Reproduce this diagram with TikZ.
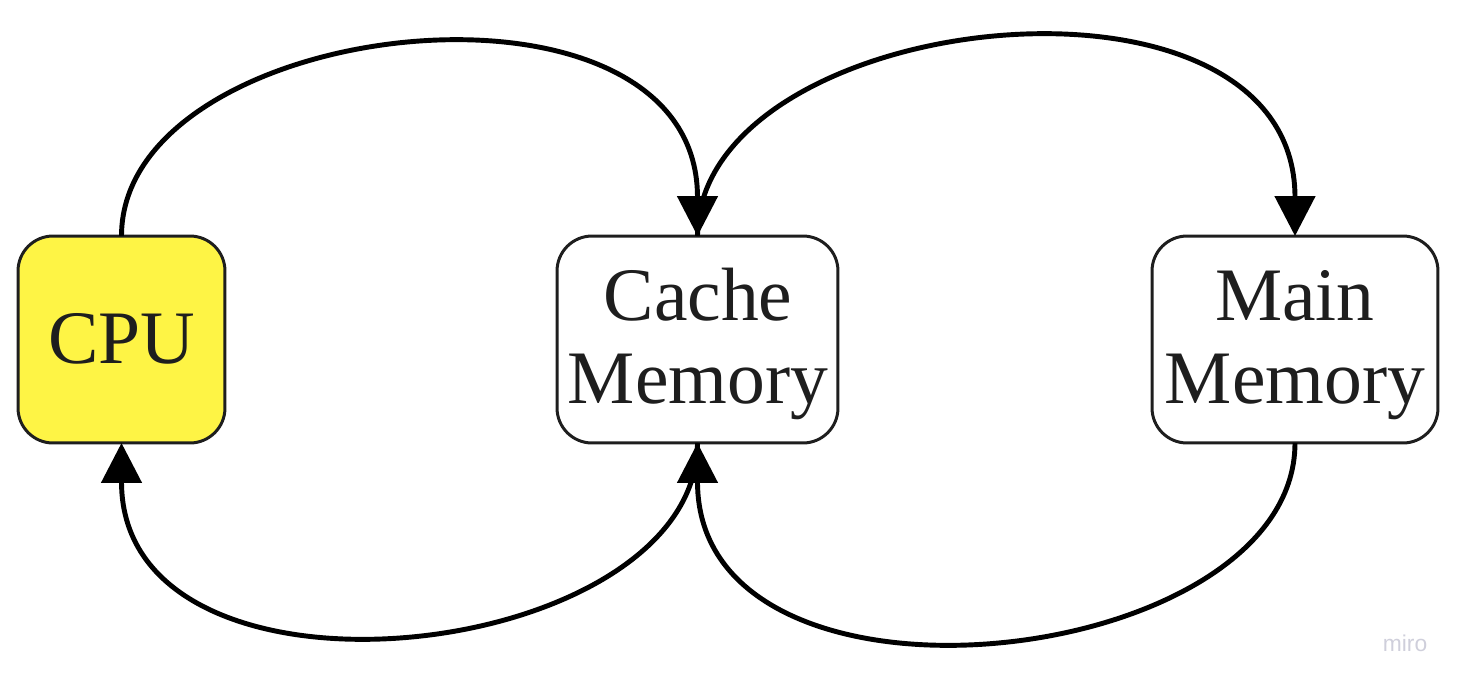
\documentclass[tikz,border=0pt]{standalone}
\usepackage{fontspec}
\setmainfont{Liberation Serif}
\newfontfamily\wmfont{Liberation Sans}
\usetikzlibrary{arrows.meta}
\definecolor{miroyellow}{HTML}{FEF445}
\definecolor{boxline}{HTML}{1E1E1E}
\definecolor{txt}{HTML}{1E1E1E}
\definecolor{wm}{HTML}{CFCFDB}
\begin{document}
\begin{tikzpicture}[x=0.02cm,y=-0.02cm,
  box/.style={draw=boxline,line width=1.7pt,rounded corners=0.7cm,inner sep=0pt,outer sep=0pt,minimum height=4.14cm},
  lbl/.style={anchor=base,inner sep=0pt,text=txt,font=\fontsize{43}{47}\selectfont},
  conn/.style={line width=2.8pt,-{Triangle[width=0.8cm,length=0.8cm]}}]
\useasboundingbox (0,0) rectangle (1461,684);
\node[box,fill=miroyellow,minimum width=4.14cm] (cpu) at (121.5,339.5) {};
\node[box,fill=white,minimum width=5.62cm] (cache) at (697.5,339.5) {};
\node[box,fill=white,minimum width=5.72cm] (main) at (1295,339.5) {};
\node[lbl] (cpulbl) at (122,363) {CPU};
\node[lbl] (cachel1) at (698,320) {Cache};
\node[lbl] (cachel2) at (698,403) {Memory};
\node[lbl] (mainl1) at (1295,320) {Main};
\node[lbl] (mainl2) at (1295,403) {Memory};
\draw[conn] (cache.north) .. controls +(0,-227) and +(0,-294) .. (main.north);
\draw[conn] (cpu.north) .. controls +(0,-220) and +(0,-285) .. (cache.north);
\draw[conn] (main.south) .. controls +(0,227) and +(0,294) .. (cache.south);
\draw[conn] (cache.south) .. controls +(0,220) and +(0,285) .. (cpu.south);
\node[text=wm,font=\wmfont\fontsize{13}{15}\selectfont,inner sep=0pt] (wmark) at (1405,643) {miro};
\end{tikzpicture}
\end{document}
